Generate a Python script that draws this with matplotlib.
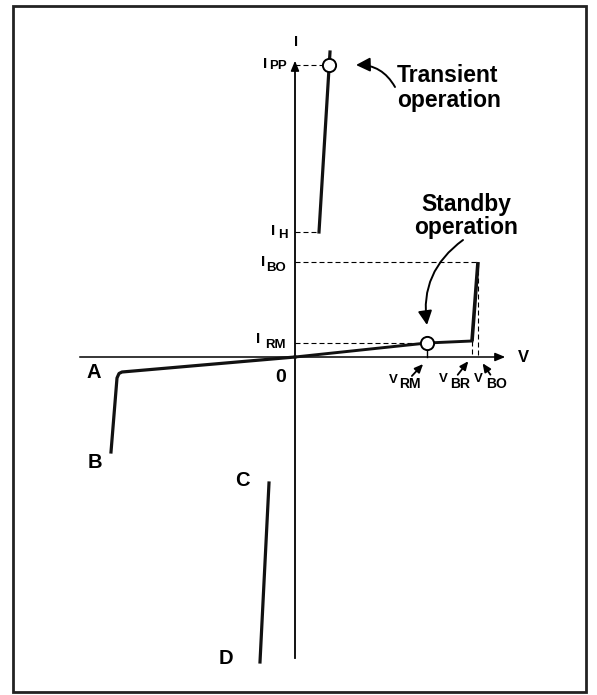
import matplotlib
matplotlib.use("Agg")
from matplotlib import pyplot as plt
from matplotlib.patches import Rectangle, FancyArrowPatch

plt.rcParams['font.family'] = ['Liberation Sans', 'DejaVu Sans']
plt.rcParams['font.weight'] = 'bold'

# characteristic points (diagram units, origin where the V and I axes cross)
V_RM, V_BR, V_BO = 132, 177, 183
I_RM, I_BR, I_BO = 14, 16, 95
V_H, I_H = 24, 125        # holding point
V_PP, I_PP = 34, 292      # peak pulse point
V_TOP, I_TOP = 35, 305    # end of the transient branch

# reverse branch A-B and the C-D segment
neg_v = [0, -173, -176, -178, -184]
neg_i = [0, -15, -16.5, -21, -95]
cd_v = [-26, -35]
cd_i = [-126, -305]

# axis extents
V_MIN, V_MAX = -213, 213
I_MIN, I_MAX = -301, 299

fig = plt.figure(figsize=(5.97, 6.95), dpi=100)
ax = fig.add_axes([0, 0, 1, 1])
ax.set_xlim(-295, 302)
ax.set_ylim(-338, 357)
ax.axis('off')

# frame round the picture
fig.patches.append(Rectangle((13 / 597, 3 / 695), 573 / 597, 686 / 695,
                             transform=fig.transFigure, fill=False,
                             lw=2.0, ec='#222222'))

# axes with arrow heads
ax.plot([-215, V_MAX - 6], [0, 0], color='black', lw=1.1)
ax.plot([0, 0], [I_MIN, I_MAX - 6], color='black', lw=1.3)
ax.annotate('', xy=(V_MAX, 0), xytext=(V_MAX - 10, 0),
            arrowprops=dict(arrowstyle='-|>,head_length=0.6,head_width=0.25',
                            color='black', lw=1.1))
ax.annotate('', xy=(0, I_MAX), xytext=(0, I_MAX - 10),
            arrowprops=dict(arrowstyle='-|>,head_length=0.6,head_width=0.25',
                            color='black', lw=1.1))

# dashed guide lines
dash = dict(color='black', lw=0.8, linestyle=(0, (4.5, 2.7)))
ax.plot([0, V_PP - 6], [I_PP, I_PP], **dash)
ax.plot([0, V_H], [I_H, I_H], **dash)
ax.plot([0, V_BO], [I_BO, I_BO], **dash)
ax.plot([V_BO, V_BO], [I_BO, 0], **dash)
ax.plot([0, V_RM], [I_RM, I_RM], **dash)
ax.plot([V_BR, V_BR], [I_BR, 0], **dash)

# forward branch
ax.plot([0, V_RM, V_BR], [0, I_RM, I_BR], color='#111111', lw=2.1,
        solid_joinstyle='round')
ax.plot([V_BR, V_BO], [I_BR, I_BO], color='#111111', lw=2.6,
        solid_capstyle='butt')
ax.plot([V_RM, V_RM], [0, I_RM], color='black', lw=1.0)

# transient branch
ax.plot([V_H, V_TOP], [I_H, I_TOP], color='#111111', lw=2.3)

# reverse branch
ax.plot(neg_v, neg_i, color='#111111', lw=2.3, solid_joinstyle='round')
ax.plot(cd_v, cd_i, color='#111111', lw=2.3)

# operating points
ax.plot([V_RM, V_PP], [I_RM, I_PP], 'o', ms=9.5, mfc='white', mec='black',
        mew=1.4)

# axis names and letters
ax.text(1, 315, 'I', fontsize=10.5, ha='center', va='center')
ax.text(228, 0, 'V', fontsize=12, ha='center', va='center')
ax.text(-14, -20, '0', fontsize=14, ha='center', va='center')
for name, x, y in [('A', -201, -16), ('B', -200, -105),
                   ('C', -53, -123), ('D', -69, -301)]:
    ax.text(x, y, name, fontsize=14.5, ha='center', va='center')

# current labels: main letter right aligned, subscript left aligned
for sub, xm, ym, xs, ys in [('PP', -28, 289, -26, 288),
                            ('H', -20, 122, -17, 119),
                            ('BO', -30, 91, -29, 86),
                            ('RM', -35, 14, -30, 9)]:
    ax.text(xm, ym, 'I', fontsize=11, ha='right', va='baseline')
    ax.text(xs, ys, sub, fontsize=9.5, ha='left', va='baseline')

# voltage labels
for sub, xm, ym, xs, ys in [('RM', 103, -26, 104, -31),
                            ('BR', 153, -25, 155, -31),
                            ('BO', 188, -25, 191, -31)]:
    ax.text(xm, ym, 'V', fontsize=9.5, ha='right', va='baseline')
    ax.text(xs, ys, sub, fontsize=10, ha='left', va='baseline')

# pointer arrows to the voltage marks
pointer = dict(arrowstyle='-|>,head_length=0.5,head_width=0.22',
               color='black', lw=1.3)
ax.annotate('', xy=(130, -5), xytext=(115, -21), arrowprops=pointer)
ax.annotate('', xy=(175, -2), xytext=(161, -20), arrowprops=pointer)
ax.annotate('', xy=(186, -4), xytext=(197, -20), arrowprops=pointer)

# operation notes with curved arrows
ax.text(102, 269, 'Transient\noperation', fontsize=16.5, ha='left',
        va='center', linespacing=1.1)
ax.text(171, 141, 'Standby\noperation', fontsize=16.5, ha='center',
        va='center', linespacing=1.05)

curved = dict(arrowstyle='-|>,head_length=0.7,head_width=0.35',
              mutation_scale=12, color='black', lw=1.4,
              shrinkA=0, shrinkB=0)
ax.add_patch(FancyArrowPatch((100, 270), (61, 292),
                             connectionstyle='arc3,rad=0.3', **curved))
ax.add_patch(FancyArrowPatch((168, 117), (132, 32),
                             connectionstyle='arc3,rad=0.3', **curved))

fig.savefig('out.png', dpi=100)
